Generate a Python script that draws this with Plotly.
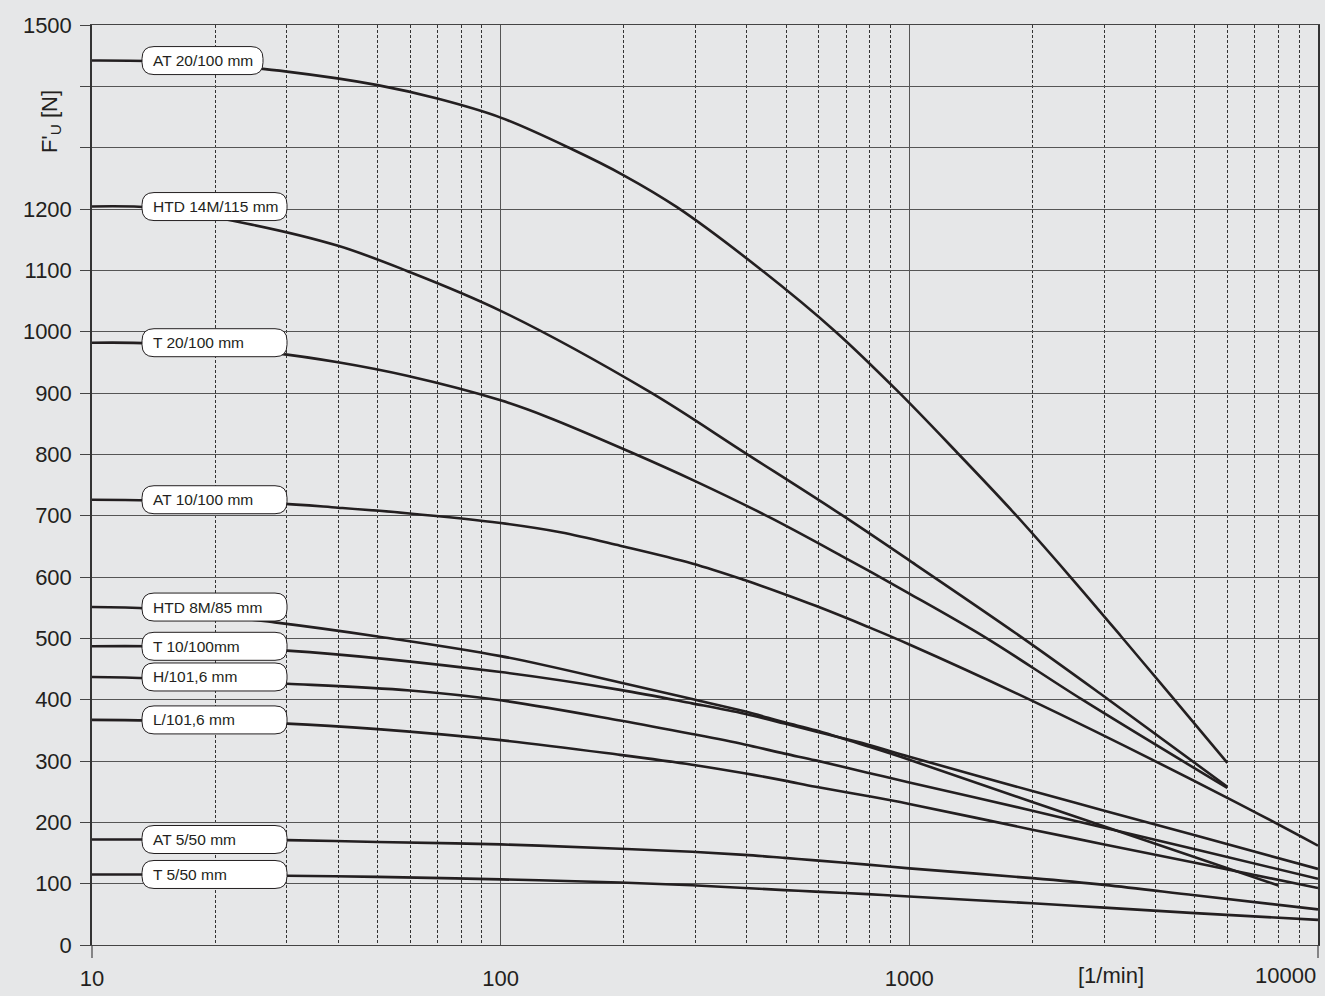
import plotly.graph_objects as go

# ---------------- data ----------------
names = ["AT 20/100 mm", "HTD 14M/115 mm", "T 20/100 mm", "AT 10/100 mm",
         "HTD 8M/85 mm", "T 10/100mm", "H/101,6 mm", "L/101,6 mm",
         "AT 5/50 mm", "T 5/50 mm"]

at20_x = [10, 14, 20, 30, 50, 70, 100, 150, 200, 270, 430, 660, 930, 1300, 1800, 2450, 3300, 4400, 6000]
at20_y = [1442, 1441, 1435, 1424, 1402, 1380, 1349, 1297, 1255, 1203, 1103, 1000, 905, 805, 705, 604, 503, 404, 297]

htd14_x = [10, 14, 24, 40, 59, 100, 230, 397, 680, 1000, 1880, 2930, 6000]
htd14_y = [1204, 1202, 1176, 1140, 1099, 1034, 903, 802, 702, 627, 502, 410, 258]

t20_x = [10, 14, 28, 40, 59, 100, 130, 209, 300, 453, 680, 1000, 1530, 2650, 6000]
t20_y = [982, 981, 965, 950, 928, 888, 861, 803, 756, 698, 635, 573, 502, 400, 256]

at10_x = [10, 14, 28, 40, 59, 100, 140, 196, 294, 395, 495, 590, 790, 1000, 2000, 6000, 10000]
at10_y = [726, 725, 720, 713, 704, 688, 673, 651, 622, 595, 572, 553, 519, 490, 398, 240, 162]

htd8_x = [10, 14, 28, 50, 100, 196, 294, 395, 495, 590, 790, 1000, 2000, 8000]
htd8_y = [551, 548, 526, 503, 471, 428, 401, 381, 363, 350, 324, 302, 233, 97]

t10_x = [10, 14, 30, 100, 196, 294, 395, 495, 590, 790, 1000, 2000, 3000, 5000, 10000]
t10_y = [487, 487, 480, 445, 416, 394, 377, 361, 348, 327, 307, 251, 219, 179, 124]

h_x = [10, 14, 30, 60, 100, 196, 294, 395, 495, 590, 790, 1000, 2000, 3000, 5000, 10000]
h_y = [437, 435, 426, 415, 399, 366, 344, 327, 312, 301, 281, 265, 219, 191, 156, 108]

l_x = [10, 14, 30, 50, 100, 196, 294, 395, 495, 590, 790, 1000, 2000, 3000, 5000, 10000]
l_y = [367, 366, 361, 352, 334, 310, 294, 280, 268, 258, 243, 230, 188, 164, 134, 93]

at5_x = [10, 14, 30, 50, 100, 196, 294, 395, 495, 590, 790, 1000, 2000, 3000, 5000, 10000]
at5_y = [172, 172, 171, 168, 164, 157, 152, 147, 142, 138, 131, 125, 109, 98, 81, 58]

t5_x = [10, 14, 30, 50, 100, 196, 294, 395, 495, 590, 790, 1000, 2000, 3000, 5000, 10000]
t5_y = [115, 115, 113, 111, 107, 102, 97.5, 93, 89.5, 87, 83, 79, 68, 61, 52, 41]

xs = [at20_x, htd14_x, t20_x, at10_x, htd8_x, t10_x, h_x, l_x, at5_x, t5_x]
ys = [at20_y, htd14_y, t20_y, at10_y, htd8_y, t10_y, h_y, l_y, at5_y, t5_y]

y_labeled = list(range(0, 1201, 100)) + [1500]
y_unlabeled = [1300, 1400]
x_major = [10, 100, 1000]
x_minor = [d * 10 ** k for k in range(1, 4) for d in range(2, 10)]
x_last = "10000"
x_unit = "[1/min]"
y_title = "F'<sub>U</sub> [N]"

# ---------------- style ----------------
INK = "#231f20"
BG = "#e6e7e8"
GRID = "#555555"
FONT = "Liberation Sans, Arial, sans-serif"
label_w = [121] + [145] * 9   # pixel widths of the rounded label boxes
box_left, box_h, box_r = 50, 28, 12

fig = go.Figure()
for x, y, n in zip(xs, ys, names):
    fig.add_trace(go.Scatter(x=x, y=y, mode="lines", name=n,
                             line=dict(color=INK, width=2.6, shape="spline", smoothing=1.0),
                             showlegend=False, hoverinfo="skip"))

shapes = []
annotations = []
for y, n, w in zip(ys, names, label_w):
    x0, x1 = box_left, box_left + w
    y0, y1 = -box_h / 2, box_h / 2
    r = box_r
    path = (f"M {x0+r},{y0} L {x1-r},{y0} Q {x1},{y0} {x1},{y0+r} L {x1},{y1-r} "
            f"Q {x1},{y1} {x1-r},{y1} L {x0+r},{y1} Q {x0},{y1} {x0},{y1-r} "
            f"L {x0},{y0+r} Q {x0},{y0} {x0+r},{y0} Z")
    shapes.append(dict(type="path", path=path, xref="paper", yref="y",
                       xsizemode="pixel", ysizemode="pixel", xanchor=0, yanchor=y[0],
                       fillcolor="white", line=dict(color=INK, width=1), layer="above"))
    annotations.append(dict(text=n, xref="paper", yref="y", x=0, xshift=box_left + 9,
                            y=y[0], xanchor="left", yanchor="middle", showarrow=False,
                            font=dict(family=FONT, size=15.5, color=INK)))

# small edge ticks under the x axis
for px in (0, 1):
    shapes.append(dict(type="line", xref="paper", yref="paper", x0=px, x1=px,
                       y0=0, y1=-0.014, line=dict(color="#444", width=1.2)))

annotations += [
    dict(text=y_title, xref="paper", yref="paper", x=-0.034, y=0.895, textangle=-90,
         xanchor="center", yanchor="middle",
         showarrow=False, font=dict(family=FONT, size=22, color=INK)),
    dict(text=x_last, xref="paper", yref="paper", x=1, y=0, xanchor="right",
         yanchor="top", yshift=-16, showarrow=False, font=dict(family=FONT, size=22, color=INK)),
    dict(text=x_unit, xref="paper", yref="paper", x=0.831, y=0, xanchor="center",
         yanchor="top", yshift=-16, showarrow=False, font=dict(family=FONT, size=22, color=INK)),
]

fig.update_layout(
    width=1325, height=996,
    margin=dict(l=92, r=5, t=25, b=47),
    paper_bgcolor=BG, plot_bgcolor=BG,
    font=dict(family=FONT, size=22, color=INK),
    shapes=shapes, annotations=annotations,
    xaxis=dict(type="log", range=[1, 4], tickmode="array", tickvals=x_major,
               ticktext=[str(v) for v in x_major], ticks="", showgrid=True, gridcolor=GRID,
               gridwidth=1, zeroline=False, showline=True, mirror=True,
               linecolor="#444", linewidth=1, ticklabelstandoff=14,
               minor=dict(tickmode="array", tickvals=x_minor, showgrid=True,
                          gridcolor="#333", griddash="3px,2px", gridwidth=1, ticks="")),
    yaxis=dict(range=[0, 1500], tickmode="array", tickvals=y_labeled,
               ticks="outside", ticklen=10, tickcolor="#444", tickwidth=1,
               showgrid=True, gridcolor=GRID, gridwidth=1, zeroline=False,
               showline=True, mirror=True, linecolor="#333", linewidth=1.5,
               ticklabelstandoff=4,
               minor=dict(tickmode="array", tickvals=y_unlabeled, showgrid=True,
                          gridcolor=GRID, gridwidth=1, ticks="outside", ticklen=10,
                          tickcolor="#444", tickwidth=1)),
)

fig.write_html("out.html", config={"displayModeBar": False},
               post_script="document.body.style.margin='0px';document.body.style.overflow='hidden';")
